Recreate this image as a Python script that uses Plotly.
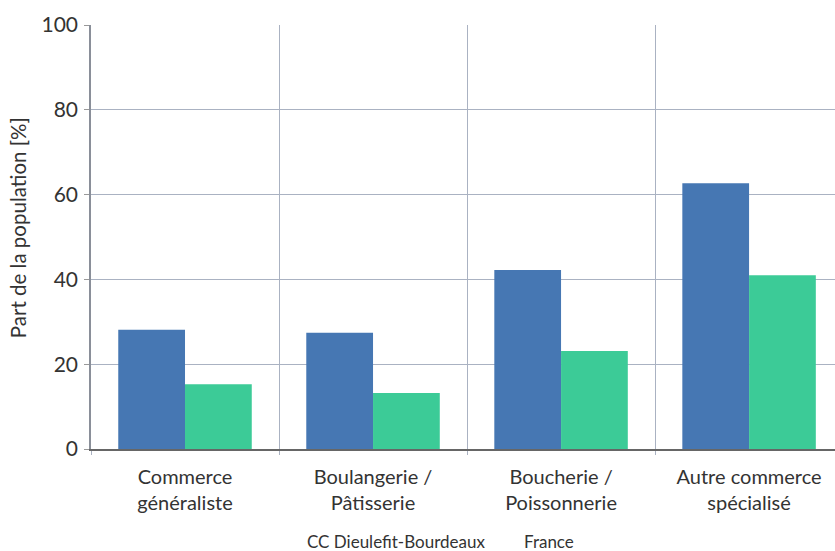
import plotly.graph_objects as go

categories = ["Commerce<br>généraliste", "Boulangerie /<br>Pâtisserie",
              "Boucherie /<br>Poissonnerie", "Autre commerce<br>spécialisé"]
cc_values = [28.1, 27.4, 42.2, 62.7]
france_values = [15.3, 13.2, 23.1, 41.0]
series_names = ["CC Dieulefit-Bourdeaux", "France"]
y_ticks = [0, 20, 40, 60, 80, 100]

blue = "#4677B3"
green = "#3CCB97"

fig = go.Figure()
fig.add_trace(go.Bar(x=categories, y=cc_values, name=series_names[0],
                     marker=dict(color=blue, line=dict(width=0))))
fig.add_trace(go.Bar(x=categories, y=france_values, name=series_names[1],
                     marker=dict(color=green, line=dict(width=0))))

fig.update_layout(
    width=835, height=551,
    margin=dict(l=91, r=0, t=25, b=102),
    barmode="group", bargap=0.29, bargroupgap=0,
    plot_bgcolor="white", paper_bgcolor="white",
    font=dict(family="Lato", color="#333333", size=20),
    showlegend=False,
)
fig.update_xaxes(
    range=[-0.5, 3.457], tickson="boundaries", automargin=False,
    showgrid=True, gridcolor="#aab2c2", gridwidth=1,
    ticks="outside", ticklen=4, tickcolor="#aab2c2",
    showline=True, linecolor="#666666", linewidth=2,
    tickfont=dict(size=20, color="#333333"),
    ticklabelstandoff=9,
)
fig.update_yaxes(
    range=[0, 100], tickvals=y_ticks, automargin=False,
    showgrid=True, gridcolor="#aab2c2", gridwidth=1,
    zeroline=False,
    ticks="outside", ticklen=5, tickcolor="#999999",
    showline=True, linecolor="#8a8f99", linewidth=1.5,
    tickfont=dict(size=21, color="#333333"),
    ticklabelstandoff=2,
)

# y title as annotation so it can sit a little above the plot centre
fig.add_annotation(text="Part de la population [%]", x=-0.098, y=0.521,
                   xref="paper", yref="paper", textangle=-90, showarrow=False,
                   xanchor="center", yanchor="middle",
                   font=dict(size=20.5, color="#333333"))

legend_x = [0.41, 0.616]
for name, lx in zip(series_names, legend_x):
    fig.add_annotation(text=name, x=lx, y=-0.217, xref="paper", yref="paper",
                       showarrow=False, xanchor="center", yanchor="middle",
                       font=dict(size=17, color="#333333"))

# drop the default page margin so the figure sits at the window's corner
fig.write_html("out.html", config={"displayModeBar": False},
               post_script="document.body.style.margin='0';")
